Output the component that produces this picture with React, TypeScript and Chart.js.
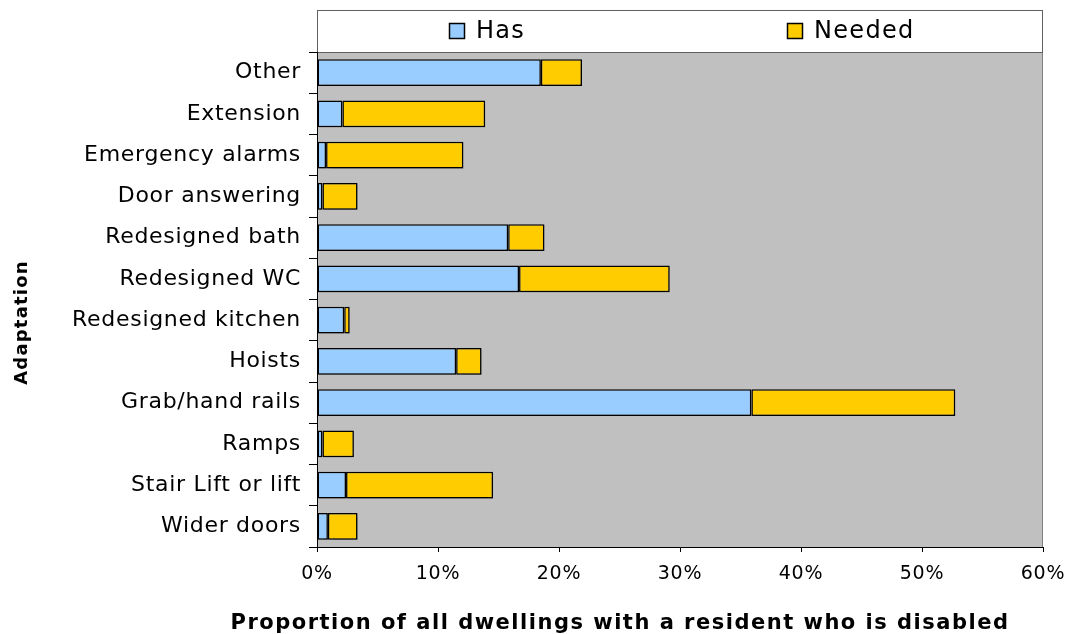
import { useEffect, useRef } from "react";
import { Chart, registerables } from "chart.js";

Chart.register(...registerables);

// Adaptation categories, listed top to bottom
const categories = [
  "Other",
  "Extension",
  "Emergency alarms",
  "Door answering",
  "Redesigned bath",
  "Redesigned WC",
  "Redesigned kitchen",
  "Hoists",
  "Grab/hand rails",
  "Ramps",
  "Stair Lift or lift",
  "Wider doors",
];

// Percent of dwellings that already have the adaptation
const hasValues = [18.5, 2.1, 0.75, 0.45, 15.8, 16.7, 2.25, 11.5, 35.9, 0.45, 2.4, 0.9];
// Percent of dwellings where the adaptation is still needed
const neededValues = [3.4, 11.8, 11.35, 2.9, 3.0, 12.45, 0.45, 2.1, 16.85, 2.6, 12.15, 2.45];

const seriesNames = ["Has", "Needed"];
const seriesColors = ["#99CCFF", "#FFCC00"];

const xMin = 0;
const xMax = 60;
const xStep = 10;

const xTitle = "Proportion of all dwellings with a resident who is disabled";
const yTitle = "Adaptation";

const FONT = "'DejaVu Sans', Verdana, sans-serif";

// Grey plot background, framed legend strip above it and the two axis titles
const decorPlugin = {
  id: "decor",
  beforeDraw(chart: any) {
    const { ctx, chartArea } = chart;
    ctx.letterSpacing = "0.7px";
    ctx.save();
    ctx.fillStyle = "#C0C0C0";
    ctx.fillRect(chartArea.left, chartArea.top, chartArea.right - chartArea.left, chartArea.bottom - chartArea.top);
    ctx.strokeStyle = "#808080";
    ctx.lineWidth = 1;
    ctx.strokeRect(chartArea.left + 0.5, chartArea.top + 0.5, chartArea.right - chartArea.left - 1, chartArea.bottom - chartArea.top);

    // legend strip
    const top = 10;
    const h = chartArea.top - top;
    ctx.fillStyle = "#FFFFFF";
    ctx.fillRect(chartArea.left, top, chartArea.right - chartArea.left, h);
    ctx.strokeStyle = "#606060";
    ctx.strokeRect(chartArea.left + 0.5, top + 0.5, chartArea.right - chartArea.left - 1, h);

    const datasets = chart.data.datasets;
    const half = (chartArea.right - chartArea.left) / datasets.length;
    const midY = top + h / 2;
    ctx.font = `24px ${FONT}`;
    ctx.letterSpacing = "1.3px";
    ctx.textBaseline = "middle";
    ctx.textAlign = "left";
    datasets.forEach((ds: any, i: number) => {
      const tw = ctx.measureText(ds.label).width;
      const box = 16;
      const gap = 11;
      const w = box + gap + tw;
      const cx = chartArea.left + half * (i + 0.5);
      const x0 = Math.round(cx - w / 2 - 11);
      ctx.fillStyle = ds.backgroundColor;
      ctx.fillRect(x0, midY - box / 2, box, box);
      ctx.strokeStyle = "#000";
      ctx.lineWidth = 1.5;
      ctx.strokeRect(x0 + 0.5, midY - box / 2 + 0.5, box - 1, box - 1);
      ctx.fillStyle = "#000";
      ctx.fillText(ds.label, x0 + box + gap, midY + 1);
    });
    ctx.restore();
  },
  beforeDatasetsDraw(chart: any) {
    const ctx = chart.ctx;
    ctx.save();
    ctx.shadowColor = "rgba(0,0,0,0.25)";
    ctx.shadowOffsetX = 1.5;
    ctx.shadowOffsetY = 1.5;
    ctx.shadowBlur = 1;
  },
  afterDatasetsDraw(chart: any) {
    chart.ctx.restore();
  },
  afterDraw(chart: any) {
    const { ctx, chartArea } = chart;
    ctx.save();
    ctx.fillStyle = "#000";
    ctx.font = `bold 21px ${FONT}`;
    ctx.letterSpacing = "1.5px";
    ctx.textAlign = "center";
    ctx.textBaseline = "alphabetic";
    ctx.fillText(xTitle, 620, 629);

    ctx.translate(27, (chartArea.top + chartArea.bottom) / 2 + 23);
    ctx.rotate(-Math.PI / 2);
    ctx.font = `bold 18px ${FONT}`;
    ctx.letterSpacing = "1.2px";
    ctx.fillText(yTitle, 0, 0);
    ctx.restore();
  },
};

export default function App() {
  const canvasRef = useRef<HTMLCanvasElement | null>(null);

  useEffect(() => {
    document.body.style.margin = "0";
    const canvas = canvasRef.current;
    if (!canvas) return;

    const chart = new Chart(canvas, {
      type: "bar",
      data: {
        labels: categories,
        datasets: [
          {
            label: seriesNames[0],
            data: hasValues,
            backgroundColor: seriesColors[0],
            borderColor: "#000000",
            borderWidth: 1.5,
            borderSkipped: false,
          },
          {
            label: seriesNames[1],
            data: neededValues,
            backgroundColor: seriesColors[1],
            borderColor: "#000000",
            borderWidth: 1.5,
            borderSkipped: false,
          },
        ],
      },
      options: {
        indexAxis: "y",
        responsive: false,
        animation: false,
        devicePixelRatio: 1,
        layout: { padding: { left: 0, right: 26, top: 52, bottom: 0 } },
        datasets: {
          bar: { categoryPercentage: 1, barPercentage: 0.65 },
        },
        plugins: {
          legend: { display: false },
          tooltip: { enabled: false },
          title: { display: false },
        },
        scales: {
          x: {
            type: "linear",
            stacked: true,
            min: xMin,
            max: xMax,
            afterFit: (scale: any) => {
              scale.height = 87;
              scale.paddingLeft = 0;
              scale.paddingRight = 0;
            },
            ticks: {
              stepSize: xStep,
              autoSkip: false,
              maxRotation: 0,
              color: "#000",
              padding: 11,
              font: { family: FONT, size: 19 },
              callback: (v: any) => `${v}%`,
            },
            grid: {
              drawOnChartArea: false,
              drawTicks: true,
              tickLength: 5,
              color: "#000",
            },
            border: { color: "#000", width: 1 },
          },
          y: {
            type: "category",
            stacked: true,
            afterFit: (scale: any) => {
              scale.width = 317;
              scale.paddingTop = 0;
              scale.paddingBottom = 0;
            },
            ticks: {
              color: "#000",
              padding: 8,
              font: { family: FONT, size: 22 },
            },
            grid: {
              offset: true,
              drawOnChartArea: false,
              drawTicks: true,
              tickLength: 8,
              color: "#000",
            },
            border: { color: "#000", width: 1 },
          },
        },
      },
      plugins: [decorPlugin],
    });

    return () => chart.destroy();
  }, []);

  return <canvas ref={canvasRef} width={1069} height={634} style={{ display: "block" }} />;
}
